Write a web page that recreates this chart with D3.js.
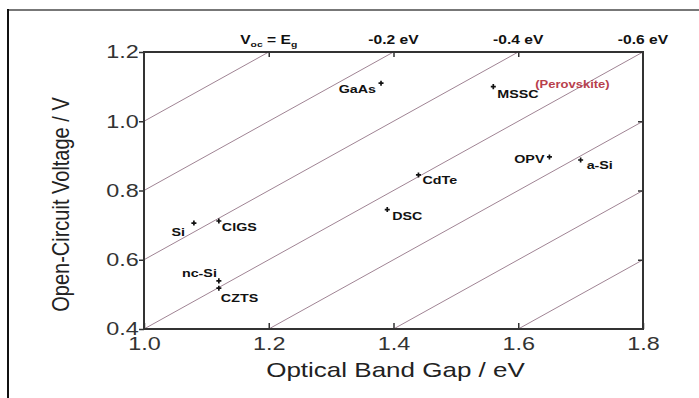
<!DOCTYPE html>
<html>
<head>
<meta charset="utf-8">
<script src="https://cdn.jsdelivr.net/npm/d3@7"></script>
<style>
	body{margin:0;background:#fff;}
	svg{display:block;font-family:"Liberation Sans",Arial,sans-serif;}
	.tick text{fill:#333;}
	.tick line{stroke:#333;stroke-width:1.5;}
</style>
</head>
<body>
<svg class="chart" width="699" height="398"></svg>
<script>
// cells
var materials = ['GaAs','MSSC','OPV','a-Si','CdTe','DSC','Si','CIGS','nc-Si','CZTS'];
var bandGap   = [1.38, 1.56, 1.65, 1.70, 1.44, 1.39, 1.08, 1.12, 1.12, 1.12];
var voc       = [1.11, 1.10, 0.897, 0.888, 0.845, 0.745, 0.706, 0.712, 0.539, 0.518];
var lossLines = [0, -0.2, -0.4, -0.6, -0.8, -1.0, -1.2];
var topTicks  = [1.2, 1.4, 1.6, 1.8];
var topLabels = ['Voc = Eg', '-0.2 eV', '-0.4 eV', '-0.6 eV'];
var xTicks = [1.0, 1.2, 1.4, 1.6, 1.8];
var yTicks = [0.4, 0.6, 0.8, 1.0, 1.2];

// where each label sits next to its marker (px)
var labelPos = {
	'GaAs': {a:'end', dx:-5, dy:10},
	'MSSC': {a:'start', dx:4, dy:11},
	'OPV': {a:'end', dx:-5, dy:6},
	'a-Si': {a:'start', dx:6, dy:9},
	'CdTe': {a:'start', dx:4, dy:9},
	'DSC': {a:'start', dx:5, dy:10},
	'Si': {a:'end', dx:-9, dy:13},
	'CIGS': {a:'start', dx:3, dy:10},
	'nc-Si': {a:'end', dx:-2, dy:-4},
	'CZTS': {a:'start', dx:2, dy:14}
};

var margin = {top:52, left:144, right:56, bottom:69};
var W = 699, H = 398;
var width = W - margin.left - margin.right,
	height = H - margin.top - margin.bottom;
var sx = 1.3;

var svg = d3.select('.chart');

// outer frame of the figure
svg.append('line').attr('x1',8).attr('y1',10).attr('x2',699).attr('y2',10)
	.attr('stroke','#777').attr('stroke-width',2);
svg.append('line').attr('x1',8).attr('y1',9).attr('x2',8).attr('y2',398)
	.attr('stroke','#111').attr('stroke-width',2);

var chart = svg.append('g').attr('transform','translate(' + margin.left + ',' + margin.top + ')');

var x = d3.scaleLinear().domain([1.0,1.8]).range([0,width]);
var y = d3.scaleLinear().domain([0.4,1.2]).range([height,0]);

// Voc = Eg - loss lines
lossLines.forEach(function(off){
	var x0 = Math.max(1.0, 0.4 - off), x1 = Math.min(1.8, 1.2 - off);
	chart.append('line')
		.attr('x1',x(x0)).attr('y1',y(x0 + off))
		.attr('x2',x(x1)).attr('y2',y(x1 + off))
		.attr('stroke','#a08494').attr('stroke-width',1);
});

var xAxis = d3.axisBottom(x).tickValues(xTicks).tickFormat(d3.format('.1f'))
	.tickSizeInner(-6).tickSizeOuter(0).tickPadding(8);
var yAxis = d3.axisLeft(y).tickValues(yTicks).tickFormat(d3.format('.1f'))
	.tickSizeInner(5).tickSizeOuter(0).tickPadding(2);

var gx = chart.append('g').attr('class','x axis')
	.attr('transform','translate(0,' + height + ')').call(xAxis);
var gy = chart.append('g').attr('class','y axis').call(yAxis);
gx.select('.domain').remove();
gy.select('.domain').remove();
gx.selectAll('.tick text').style('font-size','18px').attr('transform','scale(' + sx + ',1)');
gy.selectAll('.tick text').style('font-size','18px').attr('x',-4).attr('transform','scale(' + sx + ',1)');

chart.append('g').attr('class','top axis')
	.call(d3.axisTop(x).tickValues([1.2,1.4,1.6]).tickSizeInner(-5).tickSizeOuter(0).tickFormat(''))
	.select('.domain').remove();
chart.append('g').attr('class','right axis').attr('transform','translate(' + width + ',0)')
	.call(d3.axisRight(y).tickValues([0.6,0.8,1.0]).tickSizeInner(-5).tickSizeOuter(0).tickFormat(''))
	.select('.domain').remove();

chart.append('rect').attr('width',width).attr('height',height)
	.attr('fill','none').attr('stroke','#333').attr('stroke-width',2);

// top labels for the loss lines
var tl = chart.selectAll('.toplab').data(topTicks).enter().append('text')
	.attr('class','toplab')
	.attr('transform',function(d){ return 'translate(' + x(d) + ',-8) scale(' + sx + ',1)'; })
	.attr('text-anchor','middle')
	.style('font-size','12px').style('font-weight','bold').style('fill','#111');
tl.each(function(d,i){
	var t = d3.select(this);
	if(i === 0){
		t.append('tspan').text('V');
		t.append('tspan').attr('dy',3).style('font-size','8px').text('oc');
		t.append('tspan').attr('dy',-3).text(' = E');
		t.append('tspan').attr('dy',3).style('font-size','8px').text('g');
	}else{
		t.text(topLabels[i]);
	}
});

// data points
var pts = materials.map(function(m,i){ return {name:m, eg:bandGap[i], v:voc[i]}; });
chart.selectAll('.pt').data(pts).enter().append('path')
	.attr('class','pt')
	.attr('d', d3.symbol().type(d3.symbolCross).size(14))
	.attr('transform',function(d){ return 'translate(' + x(d.eg) + ',' + y(d.v) + ')'; })
	.attr('fill','#111');

chart.selectAll('.lab').data(pts).enter().append('text')
	.attr('class','lab')
	.attr('transform',function(d){
		var p = labelPos[d.name];
		return 'translate(' + (x(d.eg) + p.dx) + ',' + (y(d.v) + p.dy) + ') scale(' + sx + ',1)';
	})
	.attr('text-anchor',function(d){ return labelPos[d.name].a; })
	.style('font-size','11px').style('font-weight','bold').style('fill','#111')
	.text(function(d){ return d.name; });

// perovskite note next to MSSC
var mssc = pts[materials.indexOf('MSSC')];
chart.append('text')
	.attr('transform','translate(' + (x(mssc.eg) + 42) + ',' + (y(mssc.v) + 1) + ') scale(' + sx + ',1)')
	.style('font-size','10px').style('font-weight','bold').style('fill','#b8404c')
	.text('(Perovskite)');

// axis titles
chart.append('text')
	.attr('transform','translate(' + (width/2 + 2) + ',' + (height + 48) + ') scale(1.3,1)')
	.attr('text-anchor','middle').style('font-size','20px').style('fill','#222')
	.text('Optical Band Gap / eV');
chart.append('text')
	.attr('transform','translate(-75,' + (height/2 + 14) + ') rotate(-90) scale(1,1.2)')
	.attr('text-anchor','middle').style('font-size','20px').style('fill','#222')
	.text('Open-Circuit Voltage / V');
</script>
</body>
</html>
